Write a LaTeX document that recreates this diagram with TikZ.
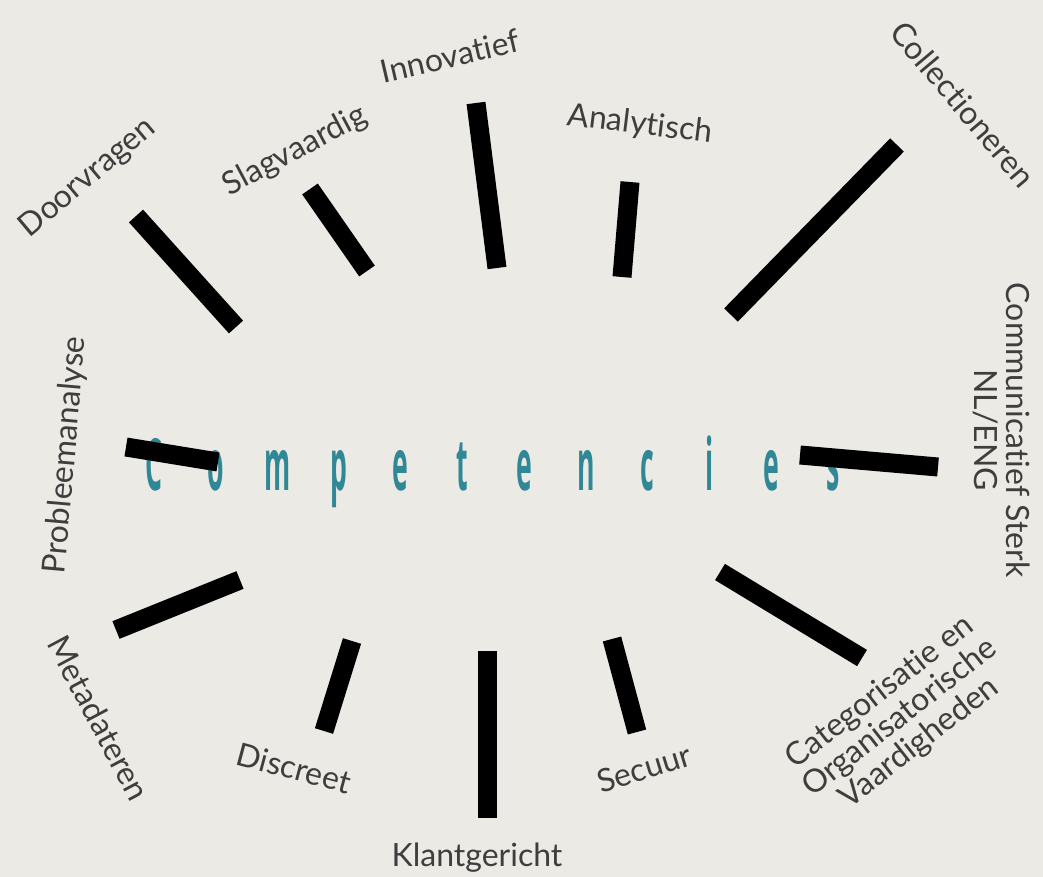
\documentclass[tikz,border=0pt]{standalone}
\usepackage{fontspec}
\setmainfont{Lato}[Ligatures=NoCommon]
\newfontfamily\narrowfont{Open Sans}
\definecolor{paper}{RGB}{236,234,228}
\definecolor{inkgray}{RGB}{62,62,62}
\definecolor{tealtext}{RGB}{48,136,150}

\begin{document}
\begin{tikzpicture}[x=1pt, y=-1pt,
  bar/.style={line width=19pt, black},
  skill/.style={inkgray, font=\fontsize{32}{32}\selectfont, align=center, inner sep=0pt},
  core/.style={tealtext, font=\narrowfont\bfseries\fontsize{72}{72}\selectfont, xscale=0.37, anchor=base, inner sep=0pt}]
  % background
  \fill[paper] (0,0) rectangle (1043,877);
  \useasboundingbox (0,0) rectangle (1043,877);
  % title letters
  \foreach \ch [count=\i from 0] in {C,o,m,p,e,t,e,n,c,i,e,s}
    \node[core] (t\i) at (154+61.7*\i, 490) {\ch};
  % radial bars
  \foreach \xa/\ya/\xb/\yb in {136/216/236/327, 310/189/367/271, 476/103/497/268,
      630/182/622/277, 897/145/731/315, 800/455/938/467, 720/572/862/658,
      612/639/637/732, 487/651/487/818, 352/641/324/731, 240/580/116/630,
      126/447/218/462}
    \draw[bar] (\xa,\ya) -- (\xb,\yb);
  % labels
  \node[skill, rotate=40] (doorvragen) at (88,178) {Doorvragen};
  \node[skill, rotate=28] (slagvaardig) at (295,151) {Slagvaardig};
  \node[skill, rotate=13] (innovatief) at (450,56) {Innovatief};
  \node[skill, rotate=-7] (analytisch) at (640,125) {Analytisch};
  \node[skill, rotate=-50] (collectioneren) at (963,104) {Collectioneren};
  \node[skill, rotate=-90] (communicatief) at (1002,430) {Communicatief Sterk\\NL/ENG};
  \node[skill, rotate=38] (categorisatie) at (900,718) {Categorisatie en\\Organisatorische\\Vaardigheden};
  \node[skill, rotate=17] (secuur) at (644,768) {Secuur};
  \node[skill] (klantgericht) at (477,858) {Klantgericht};
  \node[skill, rotate=-15] (discreet) at (294,768) {Discreet};
  \node[skill, rotate=-62] (metadateren) at (99,718) {Metadateren};
  \node[skill, rotate=85] (probleemanalyse) at (66,455) {Probleemanalyse};
\end{tikzpicture}
\end{document}
